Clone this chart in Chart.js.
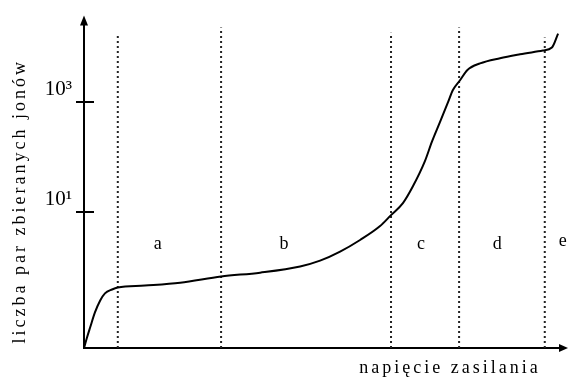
<!DOCTYPE html>
<html>
<head>
<meta charset="utf-8">
<script src="https://cdn.jsdelivr.net/npm/chart.js@4"></script>
<style>
  html, body { margin: 0; padding: 0; background: #fff; }
</style>
</head>
<body>
<canvas id="c" width="568" height="379"></canvas>
<script>
// Supply voltage (arbitrary units) and collected ion pairs (schematic, log-like scale 0..100)
const voltage = [0, 0.6, 1.3, 2.3, 3.4, 4.4, 5.9, 7.1, 12.8, 20.2, 28.8, 37.0, 45.4, 49.6, 53.8, 58.0, 62.2, 64.5, 67.0, 69.1, 71.6, 73.1, 74.8, 76.5, 77.5, 79.0, 80.5, 83.2, 87.4, 91.6, 96.4, 98.3, 99.6];
const ionPairs = [0, 3.1, 6.4, 11.0, 14.7, 16.9, 18.1, 18.7, 19.3, 20.2, 22.1, 23.3, 25.2, 27.0, 29.8, 33.4, 37.7, 41.1, 44.8, 50.0, 57.7, 63.8, 69.9, 76.1, 79.8, 82.8, 85.9, 88.0, 89.6, 90.8, 92.0, 92.9, 97.2];

// Region boundaries along the voltage axis and how high each dotted divider reaches
const regionBoundaries = [7.1, 28.8, 64.5, 78.8, 96.8];
const boundaryHeights = [96.9, 99.1, 97.5, 99.1, 96.0];

// Region letters and their anchor voltages
const regionLabels = ['a', 'b', 'c', 'd', 'e'];
const regionLabelX = [15.5, 42.0, 70.8, 86.8, 100.6];
const regionLabelY = [32, 32, 32, 32, 33];

// Y-axis tick marks
const yTickValues = [42, 76];
const yTickLabels = ['10\u00B9', '10\u00B3'];

const xTitle = 'napięcie zasilania';
const yTitle = 'liczba par zbieranych jonów';

const SERIF = '"Liberation Serif", "Times New Roman", serif';

const datasets = [{
  data: voltage.map((v, i) => ({ x: v, y: ionPairs[i] })),
  borderColor: '#000',
  borderWidth: 2,
  pointRadius: 0,
  tension: 0,
  cubicInterpolationMode: 'monotone',
  fill: false,
  clip: false
}];
regionBoundaries.forEach((b, i) => {
  datasets.push({
    data: [{ x: b, y: 0 }, { x: b, y: boundaryHeights[i] }],
    borderColor: '#222',
    borderWidth: 2,
    borderDash: [2, 3],
    pointRadius: 0,
    fill: false,
    clip: false
  });
});

// Axis arrows, tick crosses, region letters and axis titles
const decorations = {
  id: 'decorations',
  afterDraw(chart) {
    const { ctx, chartArea: a, scales: { x, y } } = chart;
    ctx.save();
    ctx.fillStyle = '#000';
    ctx.strokeStyle = '#000';
    ctx.lineWidth = 2;

    // tick crosses on the y axis
    yTickValues.forEach(v => {
      const py = Math.round(y.getPixelForValue(v));
      ctx.beginPath();
      ctx.moveTo(a.left - 8, py);
      ctx.lineTo(a.left + 10, py);
      ctx.stroke();
    });

    // arrow heads
    ctx.beginPath();
    ctx.moveTo(a.left, a.top - 9);
    ctx.lineTo(a.left - 4, a.top + 1);
    ctx.lineTo(a.left + 4, a.top + 1);
    ctx.closePath();
    ctx.fill();
    ctx.beginPath();
    ctx.moveTo(a.right + 8, a.bottom);
    ctx.lineTo(a.right - 1, a.bottom - 4);
    ctx.lineTo(a.right - 1, a.bottom + 4);
    ctx.closePath();
    ctx.fill();

    // region letters
    ctx.font = '18px ' + SERIF;
    ctx.textAlign = 'center';
    ctx.textBaseline = 'middle';
    regionLabels.forEach((t, i) => {
      ctx.fillText(t, x.getPixelForValue(regionLabelX[i]), y.getPixelForValue(regionLabelY[i]));
    });

    // axis titles
    ctx.font = '18px ' + SERIF;
    ctx.letterSpacing = '3px';
    ctx.textAlign = 'center';
    ctx.textBaseline = 'middle';
    ctx.fillText(xTitle, a.right - 110, a.bottom + 20);
    ctx.translate(20, (a.top + a.bottom) / 2 + 15);
    ctx.rotate(-Math.PI / 2);
    ctx.fillText(yTitle, 0, 0);
    ctx.restore();
  }
};

new Chart(document.getElementById('c'), {
  type: 'line',
  data: { datasets },
  options: {
    responsive: false,
    devicePixelRatio: 1,
    animation: false,
    layout: { padding: { left: 0, right: 8, top: 22, bottom: 0 } },
    plugins: { legend: { display: false }, tooltip: { enabled: false } },
    scales: {
      x: {
        type: 'linear',
        min: 0,
        max: 100,
        grid: { display: false, drawTicks: false },
        border: { display: true, color: '#000', width: 2 },
        ticks: { display: false },
        afterFit(s) { s.height = 31; }
      },
      y: {
        type: 'linear',
        min: 0,
        max: 100,
        afterBuildTicks(s) { s.ticks = yTickValues.map(v => ({ value: v })); },
        grid: { drawOnChartArea: false, drawTicks: false },
        border: { display: true, color: '#000', width: 2 },
        ticks: {
          color: '#000',
          font: { family: SERIF, size: 21 },
          padding: 12,
          labelOffset: -13,
          callback: (v) => yTickLabels[yTickValues.indexOf(v)]
        },
        afterFit(s) { s.width = 84; }
      }
    }
  },
  plugins: [decorations]
});
</script>
</body>
</html>
